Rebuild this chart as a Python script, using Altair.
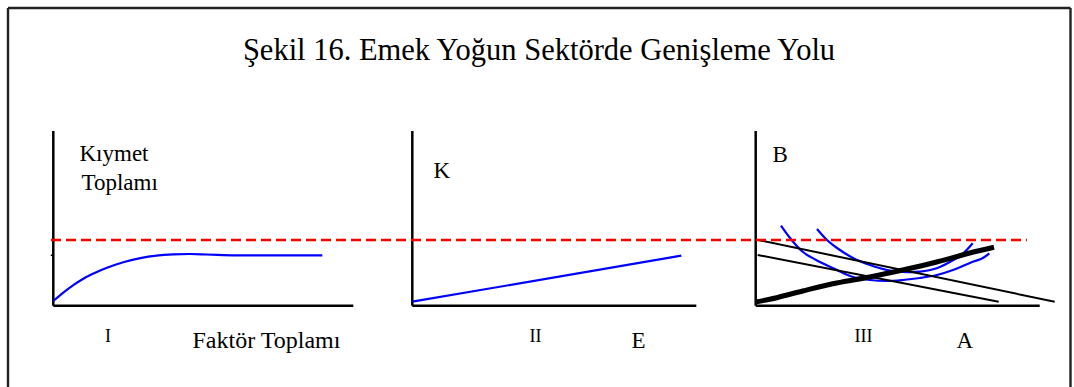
import altair as alt
import pandas as pd

W, H = 1074, 387
SERIF = "'Liberation Serif', 'Times New Roman', Tinos, 'DejaVu Serif', serif"

# Corner where each panel's two axes meet (page pixels, y measured downwards)
ORIGINS = {"I": (53.3, 305.7), "II": (412.3, 305.7), "III": (755.7, 305.7)}
AXIS_TOP = 131.0
AXIS_LEN = {"I": 300, "II": 284, "III": 284}

# Panel I - total value against total factor input (local units, y upwards)
curve_I_x = [0, 10, 20, 30, 43, 53, 70, 87, 103, 120, 137, 153, 170, 187, 220, 269]
curve_I_y = [4.7, 13, 20.5, 27, 33.5, 37.7, 43.5, 47.5, 50, 51.3, 51.7, 51.2, 50.6, 50.3, 50.4, 50.4]

# Panel II - capital K against labour E
line_II_x = [0, 269]
line_II_y = [4, 50]

# Panel III - two budget lines, two isoquants and the expansion path
budget1_x = [1, 299]
budget1_y = [66, 4]
budget2_x = [2, 243]
budget2_y = [50.7, 4]
iso1_x = [25.3, 34.3, 47.3, 64.3, 81.3, 97.3, 114.3, 131.3, 147.3, 164.3, 181.3, 197.3, 214.3, 227.6, 233.6]
iso1_y = [80, 67.7, 53.7, 43.7, 35.7, 28.7, 25.7, 24.7, 25.7, 27.7, 30.7, 35.7, 42.7, 48, 52.4]
iso2_x = [61.3, 71.3, 81.3, 97.3, 114.3, 131.3, 147.3, 164.3, 181, 197.6, 207.6, 217]
iso2_y = [76.7, 65.7, 57.7, 47.7, 40.7, 35.7, 33.7, 34, 37.4, 45.7, 52.4, 62.4]
path_x = [1, 14, 47, 81, 114, 147, 181, 214, 238.3]
path_y = [4, 6.4, 14.7, 22.7, 28.7, 35.7, 43.7, 52.7, 58.4]

# Common level marked across all three panels (panel-local height)
level_y = 65.7
level_x_from, level_x_to = 51, 1027

# Small mark on the vertical axis of panel I (panel-local height)
tick_I_y = 50.4


def to_page(panel, xs, ys):
    ox, oy = ORIGINS[panel]
    return [ox + x for x in xs], [H - oy + y for y in ys]


def series(name, panel, xs, ys):
    px, py = to_page(panel, xs, ys)
    return pd.DataFrame({"series": name, "x": px, "y": py, "order": range(len(px))})


blue = pd.concat([
    series("value", "I", curve_I_x, curve_I_y),
    series("capital", "II", line_II_x, line_II_y),
    series("iso1", "III", iso1_x, iso1_y),
    series("iso2", "III", iso2_x, iso2_y),
])
thin = pd.concat([
    series("budget1", "III", budget1_x, budget1_y),
    series("budget2", "III", budget2_x, budget2_y),
])
thick = series("path", "III", path_x, path_y)

# Axis lines of each panel
axes_rows = []
for p, (ox, oy) in ORIGINS.items():
    axes_rows.append({"x": ox, "x2": ox, "y": H - oy, "y2": H - AXIS_TOP})
    axes_rows.append({"x": ox, "x2": ox + AXIS_LEN[p], "y": H - oy, "y2": H - oy})
axes = pd.DataFrame(axes_rows)

ox1, oy1 = ORIGINS["I"]
tick = pd.DataFrame({"x": [ox1 - 2.5], "x2": [ox1], "y": [H - oy1 + tick_I_y], "y2": [H - oy1 + tick_I_y]})
level = pd.DataFrame({"x": [level_x_from], "x2": [level_x_to],
                      "y": [H - oy1 + level_y], "y2": [H - oy1 + level_y]})

# Outer frame (open at the bottom)
frame = pd.DataFrame({
    "x": [8, 8, 1070.5], "x2": [1070.5, 8, 1070.5],
    "y": [H - 8, H - 8, H - 8], "y2": [H - 8, 0, 0],
})

# Text labels: text, left x, baseline (page pixels), font size
labels = pd.DataFrame({
    "text": ["Kıymet", "Toplamı", "I", "Faktör Toplamı", "K", "II", "E", "B", "III", "A"],
    "x": [79.5, 81.5, 105, 192.5, 433.5, 529.5, 631.5, 772.5, 854.5, 956.5],
    "ypx": [161, 190, 342, 348, 178, 342, 348, 162, 342, 348],
    "size": [23, 23, 18, 24, 23, 18, 23, 23, 18, 23],
})
labels["y"] = H - labels["ypx"]
title = pd.DataFrame({"text": ["Şekil 16. Emek Yoğun Sektörde Genişleme Yolu"], "x": [539], "y": [H - 60]})

X = alt.X("x:Q", scale=alt.Scale(domain=[0, W], nice=False, zero=False), axis=None)
Y = alt.Y("y:Q", scale=alt.Scale(domain=[0, H], nice=False, zero=False), axis=None)


def rules(df, color, width, dash=None):
    kw = dict(color=color, strokeWidth=width)
    if dash:
        kw["strokeDash"] = dash
    return alt.Chart(df).mark_rule(**kw).encode(x=X, x2="x2:Q", y=Y, y2="y2:Q")


def lines(df, color, width):
    return alt.Chart(df).mark_line(color=color, strokeWidth=width, interpolate="catmull-rom").encode(
        x=X, y=Y, detail="series:N", order="order:Q")


text_layer = alt.Chart(labels).mark_text(
    font=SERIF, align="left", baseline="alphabetic", color="black"
).encode(x=X, y=Y, text="text:N", size=alt.Size("size:Q", scale=None, legend=None))

title_layer = alt.Chart(title).mark_text(
    font=SERIF, fontSize=30.5, align="center", baseline="alphabetic", color="black"
).encode(x=X, y=Y, text="text:N")

chart = alt.layer(
    rules(frame, "#222222", 2.4),
    rules(axes, "black", 2.5),
    rules(tick, "black", 1.5),
    lines(blue, "#0000ff", 2.2),
    lines(thin, "black", 2),
    lines(thick, "black", 5),
    rules(level, "#ff0000", 2.4, [10, 5]),
    text_layer,
    title_layer,
).properties(
    width=W, height=H, padding=0, autosize=alt.AutoSizeParams(type="none"),
    background="white",
).configure_view(stroke=None)

chart.save("out.html", embed_options={"renderer": "svg", "actions": False})
